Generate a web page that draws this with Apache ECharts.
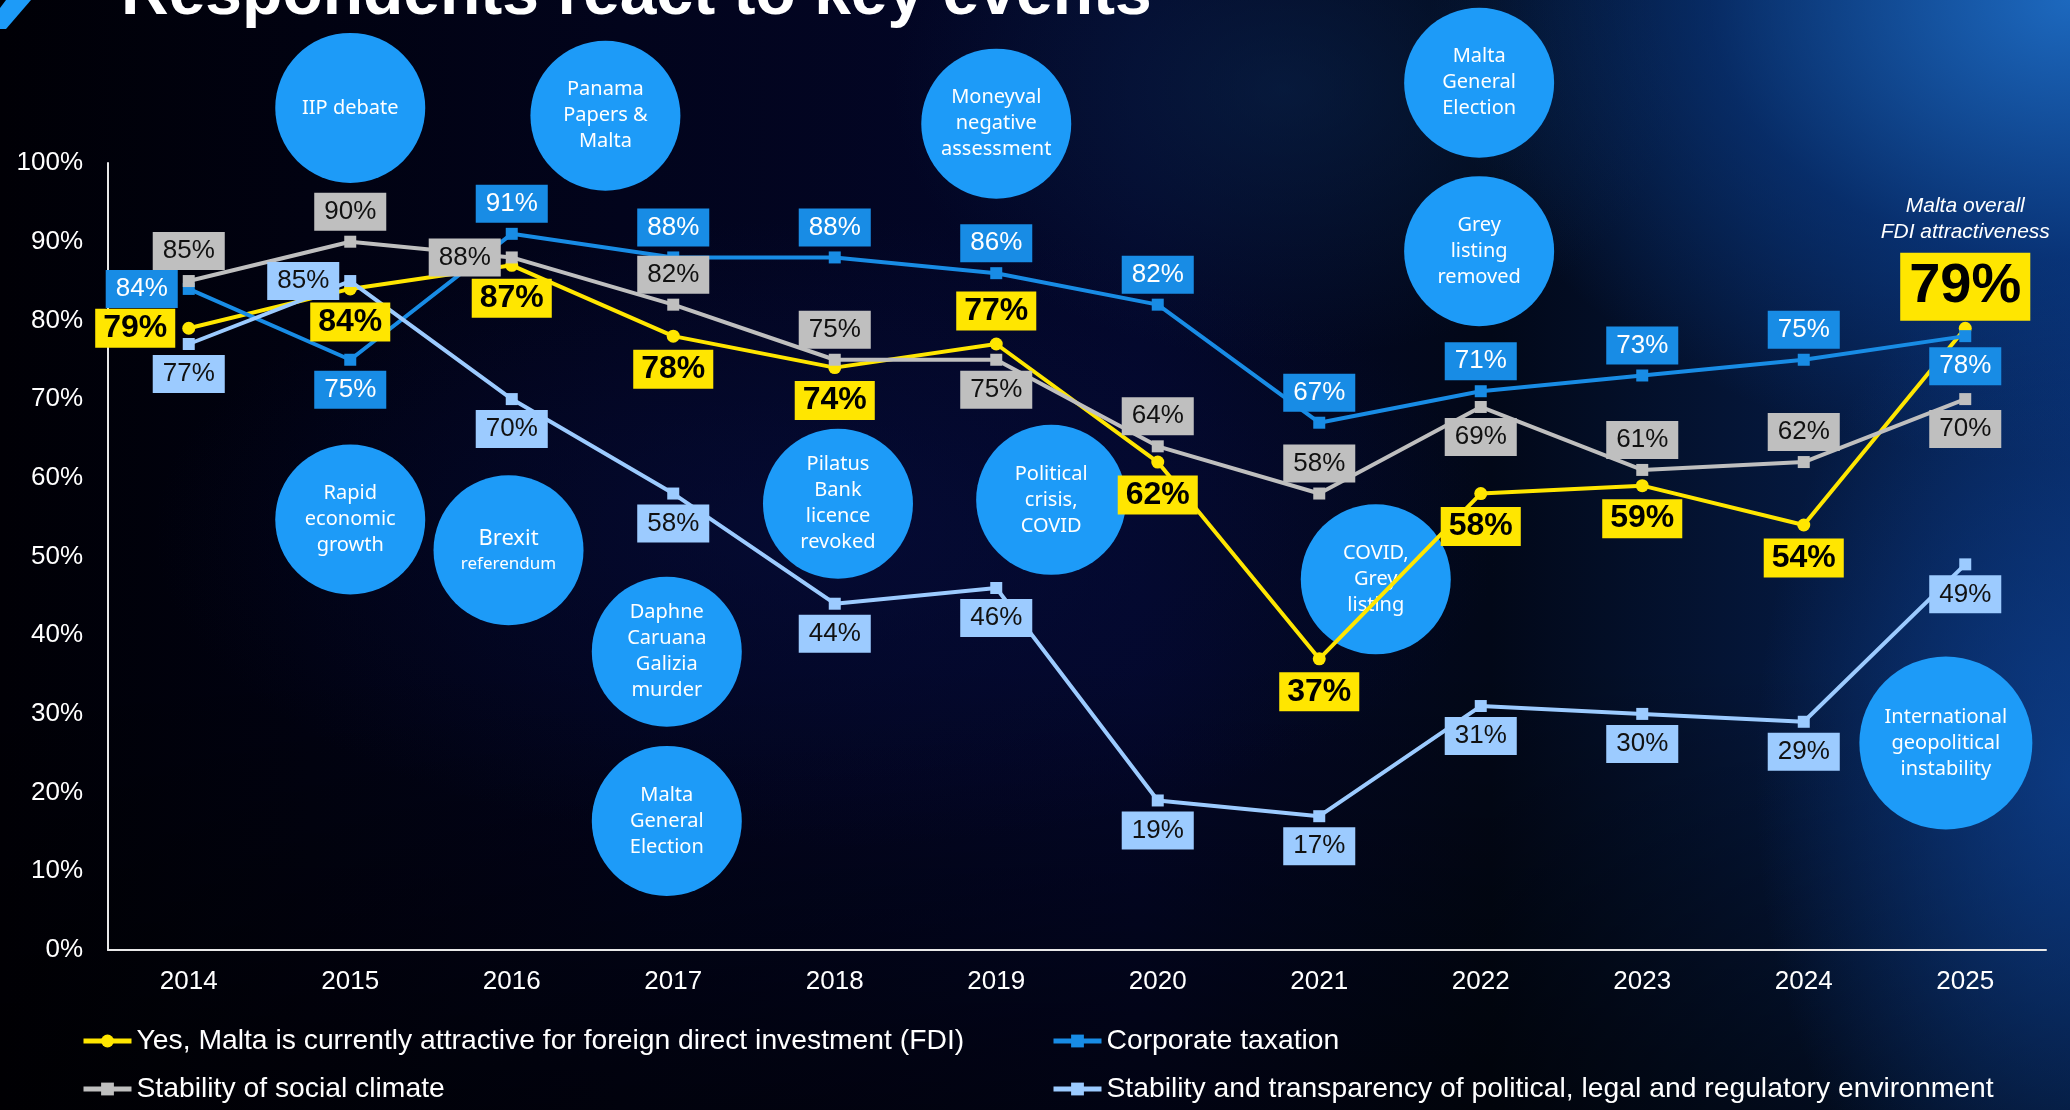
<!DOCTYPE html>
<html>
<head>
<meta charset="utf-8">
<script src="https://cdn.jsdelivr.net/npm/echarts@6/dist/echarts.min.js"></script>
<style>
  html, body { margin: 0; padding: 0; background: #000; }
  #chart {
    width: 2070px; height: 1110px;
    background:
      radial-gradient(ellipse 800px 580px at 100% 0%, rgba(30,108,195,0.95), rgba(10,62,140,0.55) 45%, rgba(0,0,0,0) 80%),
      radial-gradient(ellipse 420px 700px at 100% 70%, rgba(14,66,145,0.75), rgba(0,0,0,0) 75%),
      radial-gradient(ellipse 520px 360px at 62% 8%, rgba(10,40,80,0.55), rgba(0,0,0,0) 75%),
      radial-gradient(ellipse 900px 420px at 40% 48%, rgba(6,14,62,0.6), rgba(0,0,0,0) 75%),
      linear-gradient(180deg, rgba(0,0,0,0) 60%, rgba(0,0,0,0.55) 100%),
      linear-gradient(90deg, #000006 0%, #02041c 30%, #03072a 55%, #020818 72%, #07265e 100%);
  }
</style>
</head>
<body>
<div id="chart"></div>
<script>
// years and survey results (%)
const years = ['2014', '2015', '2016', '2017', '2018', '2019', '2020', '2021', '2022', '2023', '2024', '2025'];
const fdiValues = [79, 84, 87, 78, 74, 77, 62, 37, 58, 59, 54, 79];
const taxValues = [84, 75, 91, 88, 88, 86, 82, 67, 71, 73, 75, 78];
const socialValues = [85, 90, 88, 82, 75, 75, 64, 58, 69, 61, 62, 70];
const regulatoryValues = [77, 85, 70, 58, 44, 46, 19, 17, 31, 30, 29, 49];
const yTicks = [0, 10, 20, 30, 40, 50, 60, 70, 80, 90, 100];

const seriesNames = [
  'Yes, Malta is currently attractive for foreign direct investment (FDI)',
  'Corporate taxation',
  'Stability of social climate',
  'Stability and transparency of political, legal and regulatory environment'
];

// where each value label sits relative to its point
const fdiLabelPos = ['left', 'bottom', 'bottom', 'bottom', 'bottom', 'top', 'bottom', 'bottom', 'bottom', 'bottom', 'bottom', 'top'];
const taxLabelPos = ['left', 'bottom', 'top', 'top', 'top', 'top', 'top', 'top', 'top', 'top', 'top', 'bottom'];
const socialLabelPos = ['top', 'top', 'left', 'top', 'top', 'bottom', 'top', 'top', 'bottom', 'top', 'top', 'bottom'];
const regLabelPos = ['bottom', 'left', 'bottom', 'bottom', 'bottom', 'bottom', 'bottom', 'bottom', 'bottom', 'bottom', 'bottom', 'bottom'];

// key events (bubble annotations): text, slot on the year axis, height on the % axis
const eventLabels = [
  'IIP debate', 'Panama\nPapers &\nMalta', 'Moneyval\nnegative\nassessment',
  'Malta\nGeneral\nElection', 'Grey\nlisting\nremoved',
  'Rapid\neconomic\ngrowth', '{big|Brexit}\n{small|referendum}',
  'Daphne\nCaruana\nGalizia\nmurder', 'Malta\nGeneral\nElection',
  'Pilatus\nBank\nlicence\nrevoked', 'Political\ncrisis,\nCOVID',
  'COVID,\nGrey\nlisting', 'International\ngeopolitical\ninstability'
];
const eventSlots = [1.5, 3.08, 5.5, 8.49, 8.49, 1.5, 2.48, 3.46, 3.46, 4.52, 5.84, 7.85, 11.38];
const eventLevels = [107, 106, 105, 110.2, 88.8, 54.7, 50.8, 37.9, 16.4, 56.7, 57.2, 47.1, 26.3];

const YELLOW = '#FFE600';
const BLUE = '#188CE5';
const GREY = '#BFBFBF';
const LIGHT = '#9CCBFF';
const BUBBLE = '#1D9BF8';
const FONT = '"Liberation Sans", Arial, sans-serif';

const chart = echarts.init(document.getElementById('chart'));

function lineSeries(name, values, positions, color, textColor, symbol, bold) {
  return {
    name: name,
    type: 'line',
    z: 3,
    symbol: symbol,
    symbolSize: symbol === 'circle' ? 13 : 12,
    lineStyle: { color: color, width: 4 },
    itemStyle: { color: color },
    label: {
      show: true,
      formatter: '{c}%',
      distance: bold ? 7 : 5,
      color: textColor,
      fontFamily: FONT,
      fontSize: bold ? 32 : 26,
      fontWeight: bold ? 'bold' : 'normal',
      lineHeight: bold ? 33 : 26,
      backgroundColor: color,
      padding: bold ? [3, 8] : [6, 10]
    },
    data: values.map((v, i) => ({ value: v, label: { position: positions[i] } }))
  };
}

const fdiSeries = lineSeries(seriesNames[0], fdiValues, fdiLabelPos, YELLOW, '#000', 'circle', true);
// headline 2025 value with caption
const last = fdiSeries.data[fdiValues.length - 1];
last.label = {
  position: 'top',
  distance: 7,
  backgroundColor: 'transparent',
  padding: 0,
  align: 'center',
  lineHeight: 26,
  formatter: '{t|Malta overall}\n{t|FDI attractiveness}\n{gap| }\n{b|{c}%}',
  rich: {
    t: { color: '#fff', fontStyle: 'italic', fontSize: 21, lineHeight: 26, fontFamily: FONT, fontWeight: 'normal', align: 'center' },
    gap: { fontSize: 4, lineHeight: 14 },
    b: { color: '#000', backgroundColor: YELLOW, fontSize: 56, lineHeight: 56, fontWeight: 'bold', fontFamily: FONT, padding: [6, 9, 6, 9], align: 'center' }
  }
};

const legendBase = {
  orient: 'vertical', top: 1026, itemGap: 18, padding: 0,
  itemWidth: 48, itemHeight: 16,
  lineStyle: { width: 5 },
  textStyle: { color: '#fff', fontSize: 28.3, lineHeight: 30, fontFamily: FONT }
};

const option = {
  animation: false,
  backgroundColor: 'transparent',
  textStyle: { fontFamily: FONT },
  grid: { left: 108, right: 24, top: 163, bottom: 160, containLabel: false },
  graphic: [
    {
      type: 'polygon',
      shape: { points: [[6, 0], [31, 0], [6, 29], [0, 29], [0, 8]] },
      style: { fill: BUBBLE }
    },
    {
      type: 'text',
      left: 121,
      top: -37,
      style: { text: 'Respondents react to key events', fill: '#fff', font: 'bold 66px "Liberation Sans", Arial, sans-serif' }
    }
  ],
  legend: [
    Object.assign({ data: [seriesNames[0], seriesNames[2]], left: 81 }, legendBase),
    Object.assign({ data: [seriesNames[1], seriesNames[3]], left: 1051 }, legendBase)
  ],
  xAxis: [
    {
      type: 'category',
      data: years,
      boundaryGap: true,
      axisLine: { lineStyle: { color: '#e8e8e8', width: 2 } },
      axisTick: { show: false },
      axisLabel: { color: '#fff', fontSize: 26, margin: 19, fontFamily: FONT }
    },
    { type: 'value', min: 0, max: 12, show: false }
  ],
  yAxis: {
    type: 'value',
    min: yTicks[0],
    max: yTicks[yTicks.length - 1],
    interval: 10,
    axisLine: { show: true, lineStyle: { color: '#e8e8e8', width: 2 } },
    axisTick: { show: false },
    splitLine: { show: false },
    axisLabel: { color: '#fff', fontSize: 26, margin: 25, fontFamily: FONT, formatter: '{value}%' }
  },
  series: [
    {
      name: 'events',
      type: 'scatter',
      xAxisIndex: 1,
      z: 1,
      clip: false,
      silent: true,
      symbol: 'circle',
      symbolSize: (val, p) => p.dataIndex === eventLabels.length - 1 ? 173 : 150,
      itemStyle: { color: BUBBLE, opacity: 1 },
      label: {
        show: true,
        position: 'inside',
        formatter: p => p.name,
        color: '#fff',
        fontFamily: '"Noto Sans", sans-serif',
        fontSize: 20,
        lineHeight: 26,
        rich: {
          big: { color: '#fff', fontSize: 22, lineHeight: 28, fontFamily: '"Noto Sans", sans-serif' },
          small: { color: '#fff', fontSize: 17, lineHeight: 22, fontFamily: '"Noto Sans", sans-serif' }
        }
      },
      data: eventLabels.map((t, i) => ({ name: t, value: [eventSlots[i], eventLevels[i]] }))
    },
    fdiSeries,
    lineSeries(seriesNames[1], taxValues, taxLabelPos, BLUE, '#fff', 'rect', false),
    lineSeries(seriesNames[2], socialValues, socialLabelPos, GREY, '#111', 'rect', false),
    lineSeries(seriesNames[3], regulatoryValues, regLabelPos, LIGHT, '#111', 'rect', false)
  ]
};

chart.setOption(option);
</script>
</body>
</html>
